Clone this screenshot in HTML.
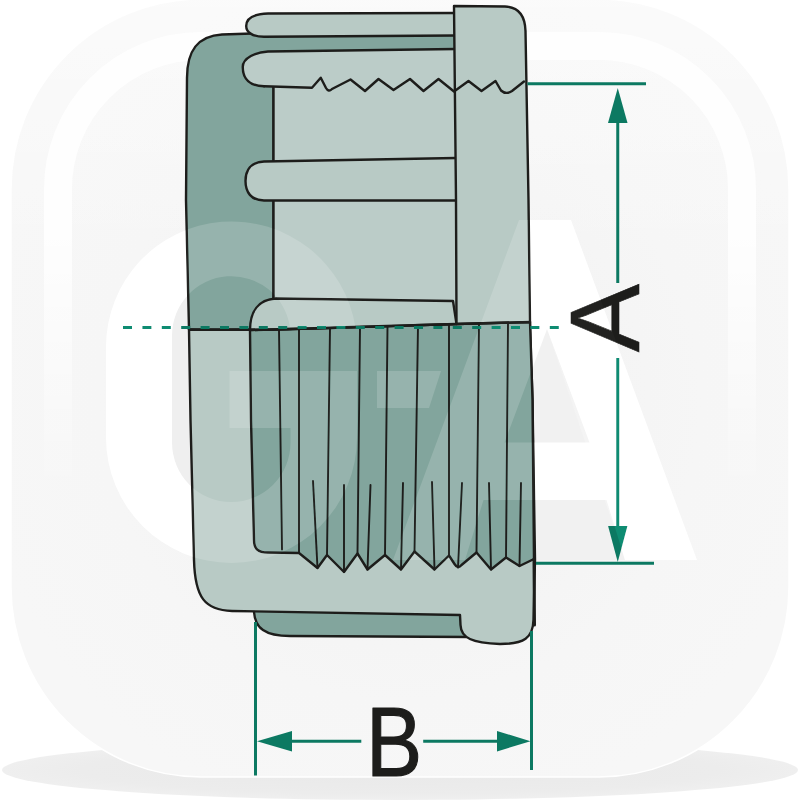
<!DOCTYPE html>
<html><head><meta charset="utf-8"><title>Drawing</title>
<style>
html,body{margin:0;padding:0;background:#fff;}
body{width:800px;height:800px;overflow:hidden;}
svg{display:block;}
text{font-family:"Liberation Sans",sans-serif;fill:#1d1d1b;}
</style></head><body>
<svg width="800" height="800" viewBox="0 0 800 800">
<defs>
<clipPath id="sqc"><path d="M201,-1 L599,-1 A190,190 0 0 1 789,189 L789,587 A190,190 0 0 1 599,777 L201,777 A190,190 0 0 1 11,587 L11,189 A190,190 0 0 1 201,-1 Z"/></clipPath>
<linearGradient id="fade" x1="0" y1="0" x2="0" y2="800" gradientUnits="userSpaceOnUse">
<stop offset="0" stop-color="#fff" stop-opacity="1"/><stop offset="0.28" stop-color="#fff" stop-opacity="1"/>
<stop offset="0.6" stop-color="#fff" stop-opacity="0.1"/><stop offset="0.7" stop-color="#fff" stop-opacity="0"/><stop offset="1" stop-color="#fff" stop-opacity="0"/></linearGradient>
<mask id="ringmask" maskUnits="userSpaceOnUse" x="0" y="-10" width="800" height="820"><rect x="0" y="-10" width="800" height="820" fill="url(#fade)"/></mask>
<radialGradient id="shad" cx="0.5" cy="0.5" r="0.5"><stop offset="0" stop-color="#e9e9e9"/><stop offset="0.8" stop-color="#ececec"/><stop offset="1" stop-color="#efefef"/></radialGradient>
<mask id="ringshape" maskUnits="userSpaceOnUse" x="0" y="-10" width="800" height="820"><path d="M201,-1 L599,-1 A190,190 0 0 1 789,189 L789,587 A190,190 0 0 1 599,777 L201,777 A190,190 0 0 1 11,587 L11,189 A190,190 0 0 1 201,-1 Z" fill="none" stroke="#fff" stroke-width="122"/><path d="M201,-1 L599,-1 A190,190 0 0 1 789,189 L789,587 A190,190 0 0 1 599,777 L201,777 A190,190 0 0 1 11,587 L11,189 A190,190 0 0 1 201,-1 Z" fill="none" stroke="#000" stroke-width="66"/></mask>
<radialGradient id="sqg" gradientUnits="userSpaceOnUse" cx="400" cy="400" r="430"><stop offset="0" stop-color="#f2f2f2"/><stop offset="0.45" stop-color="#f4f4f4"/><stop offset="0.7" stop-color="#f6f6f6"/><stop offset="1" stop-color="#f7f7f7"/></radialGradient>
<linearGradient id="toplite" x1="0" y1="0" x2="0" y2="260" gradientUnits="userSpaceOnUse"><stop offset="0" stop-color="#fff" stop-opacity="0.45"/><stop offset="1" stop-color="#fff" stop-opacity="0"/></linearGradient>
</defs>
<rect width="800" height="800" fill="#fff"/>
<!-- shadow -->
<ellipse cx="400" cy="770" rx="398" ry="30" fill="url(#shad)"/>
<!-- rounded square -->
<path d="M201,-1 L599,-1 A190,190 0 0 1 789,189 L789,587 A190,190 0 0 1 599,777 L201,777 A190,190 0 0 1 11,587 L11,189 A190,190 0 0 1 201,-1 Z" fill="url(#sqg)" stroke="#fff" stroke-width="1.5"/>
<g clip-path="url(#sqc)"><g mask="url(#ringmask)"><rect x="0" y="-10" width="800" height="820" fill="#fff" fill-opacity="0.85" mask="url(#ringshape)"/></g></g>
<rect x="0" y="0" width="800" height="260" fill="url(#toplite)" clip-path="url(#sqc)"/>
<!-- watermark letters under -->
<path d="M172,442.75 A59.25,59.25 0 0 0 290.5,442.75 L290.5,335.25 A59.25,59.25 0 0 0 172,335.25 Z" fill="#efefef"/>
<path d="M547,329 L625,560 L465,560 Z" fill="#f1f1f1"/>
<g fill="#fff" fill-rule="evenodd"><path d="M355.4,327 A125.5,125.5 0 0 0 106,346.5 L106,437.5 A125.5,125.5 0 0 0 357,437.5 L357,371 L229.5,371 L229.5,428 L290.5,428 L290.5,442.75 A59.25,59.25 0 0 1 172,442.75 L172,335.25 A59.25,59.25 0 0 1 289.9,327 Z"/><path d="M519,220 L571,220 L697,560 L625,560 L606.5,500 L483.5,500 L465,560 L393,560 Z M547,329 L589.5,442.5 L504.5,442.5 Z"/><path d="M377,371 L441,371 L429,408 L377,408 Z"/></g>

<!-- DRAWING -->
<g stroke="#1d1d1b" stroke-width="2.4" stroke-linejoin="round" stroke-linecap="round">
<!-- dark bottom ring -->
<path d="M254,600 L254,612 C255,628 265,636 290,636 L470,637 L470,600 Z" fill="#82a59d"/>
<!-- lower outer body (light) -->
<path d="M189,329.5 L190.5,420 L194,560 C195,598 205,610 232,611 L460,615 L460.5,625 C461,638 472,643 500,644 C524,644 533,638 533.5,620 L535,560 L532.5,400 L530,322 L456,324 C430,324.8 400,325.5 370,326.5 C300,329 230,330.5 189,329.5 Z" fill="#b8cac5"/>
<!-- thread inner (dark) -->
<path d="M250,330 L251,420 L254,540 C254,549 258,552.5 268,552.5 L299,553 L299,553 L317.5,568 L327,555 L344,572 L357.5,553.5 L367.5,569.5 L385,555 L401,569.5 L414.5,551.5 L434.5,569.5 L449,555.5 L454.5,564 Q458,569.5 461.5,565 L476.5,552.5 L491,569.5 L506,557.5 L519.5,566 L534,559 L532.5,400 L530,322 L456,324 C430,324.8 400,325.5 370,326.5 C320,328.3 280,329.6 250,330 Z" fill="#82a59d"/>
<g fill="none" stroke-width="1.9"><line x1="279" y1="330" x2="282" y2="549.5"/><line x1="299" y1="329.8" x2="299" y2="553"/><line x1="330" y1="328.5" x2="327" y2="555"/><line x1="360" y1="327.5" x2="357.5" y2="553.5"/><line x1="387.5" y1="326.5" x2="385" y2="555"/><line x1="418" y1="325.5" x2="414.5" y2="551.5"/><line x1="449" y1="324.5" x2="449" y2="555.5"/><line x1="479" y1="323.5" x2="476.5" y2="552.5"/><line x1="508" y1="323" x2="506" y2="557.5"/><line x1="313" y1="481" x2="317.5" y2="568"/><line x1="344" y1="485" x2="344" y2="572"/><line x1="370.5" y1="485" x2="367.5" y2="569.5"/><line x1="403" y1="483" x2="401" y2="569.5"/><line x1="432" y1="482" x2="434.5" y2="569.5"/><line x1="462" y1="483" x2="458" y2="567.5"/><line x1="489" y1="483" x2="491" y2="569.5"/><line x1="521" y1="483" x2="519.5" y2="566"/></g>
<path d="M534,559 L534.5,625" fill="none" stroke-width="3"/>

<!-- upper body dark -->
<path d="M189,329.5 L186,200 L187,78 C187,50 198,36 222,34.5 L252,33.5 L456,30 L456,60 L273.5,60 L273.5,329.5 Z" fill="#82a59d"/>
<!-- cavity light -->
<path d="M273.5,60 L456,60 L456,324 L273.5,329 Z" fill="#bbccc8" stroke="none"/>
<path d="M273.5,86 L273.5,161 M273.5,201 L273.5,298.6" fill="none"/>
<!-- rib 1 -->
<path d="M456,13 L268,13.5 C254,14 246.2,18 246.2,26 C246.2,32 252,36.75 264,36.75 L456,35.5" fill="#b8cac5"/>
<!-- rib 2 -->
<path d="M456,49 L268,51.5 C256,52 242.75,58 242.75,67 C242.75,79 250,86 264,86.25 L456,88" fill="#bbccc8" stroke="none"/>
<path d="M456,49 L268,51.5 C256,52 242.75,58 242.75,67 C242.75,79 250,86 264,86.25" fill="none"/>
<!-- rib 3 -->
<path d="M456,158 L264,161.5 C251,162 245.5,170 245.5,181 C245.5,192 251,200.5 264,200.5 L456,200.5" fill="#b8cac5"/>
<!-- rib 4 -->
<path d="M250,330 C250,312 258,299.5 276,298.5 L453,301 L456.5,324 C420,325 300,329.5 250,330 Z" fill="#b8cac5"/>
<!-- flange -->
<path d="M454,6 L505,6.5 C518,7 525,15 525.5,31 L528.5,200 L530,322 L456.5,324 L456,200 Z" fill="#b8cac5"/>
<!-- zigzag top -->
<path d="M264,86.25 L312,87.75 L320.75,77.7 L326,88 Q328.5,92.5 332,89 L350.5,79.5 L365,91 L378.5,79 L393.5,90 L410,79 L423.5,91 L438.5,79 L454,91.5 L468.5,81 L481.5,91 L495.5,81 L501,90.5 Q506,95 512,91 L524,81.5" fill="none"/>
<!-- split line -->
<path d="M189,329.5 C230,330.5 300,329 370,326.5 C400,325.5 430,324.8 456,324 L530,322" fill="none"/>
</g>

<!-- dimensions -->
<g stroke="#0c7962" fill="none" stroke-width="3">
<line x1="123" y1="327.5" x2="560" y2="327.5" stroke-width="3" stroke-dasharray="9 10.4"/>
<line x1="527.5" y1="83.75" x2="646" y2="83.75"/>
<line x1="536" y1="563.25" x2="654" y2="563.25"/>
<line x1="617.75" y1="120" x2="617.75" y2="283"/>
<line x1="617.75" y1="358" x2="617.75" y2="530"/>
<line x1="255.5" y1="622" x2="255.5" y2="775.5"/>
<line x1="531.5" y1="631" x2="531.5" y2="770"/>
<line x1="290" y1="741.2" x2="361.3" y2="741.2"/>
<line x1="423.2" y1="741.2" x2="499" y2="741.2"/>
</g>
<g fill="#0c7962" stroke="none">
<path d="M617.75,88 L627.5,123 L608,123 Z"/>
<path d="M617.75,562 L627.4,525.9 L608.1,525.9 Z"/>
<path d="M257,741.2 L292,731 L292,751.4 Z"/>
<path d="M530.5,741.2 L497,731 L497,751.4 Z"/>
</g>
<text x="0" y="0" font-size="98.5" text-anchor="middle" transform="translate(638.5,318.2) rotate(-90) scale(1.04,1)" stroke="#1d1d1b" stroke-width="0.6">A</text>
<text x="0" y="0" font-size="98" text-anchor="middle" transform="translate(394.2,776.3) scale(0.86,1)" stroke="#1d1d1b" stroke-width="1.2" stroke-linejoin="round">B</text>

<!-- watermark overlay -->
<g fill="#fff" fill-opacity="0.16" fill-rule="evenodd" style="mix-blend-mode:overlay"><path d="M355.4,327 A125.5,125.5 0 0 0 106,346.5 L106,437.5 A125.5,125.5 0 0 0 357,437.5 L357,371 L229.5,371 L229.5,428 L290.5,428 L290.5,442.75 A59.25,59.25 0 0 1 172,442.75 L172,335.25 A59.25,59.25 0 0 1 289.9,327 Z"/><path d="M519,220 L571,220 L697,560 L625,560 L606.5,500 L483.5,500 L465,560 L393,560 Z M547,329 L589.5,442.5 L504.5,442.5 Z"/><path d="M377,371 L441,371 L429,408 L377,408 Z"/></g>
</svg>
</body></html>
